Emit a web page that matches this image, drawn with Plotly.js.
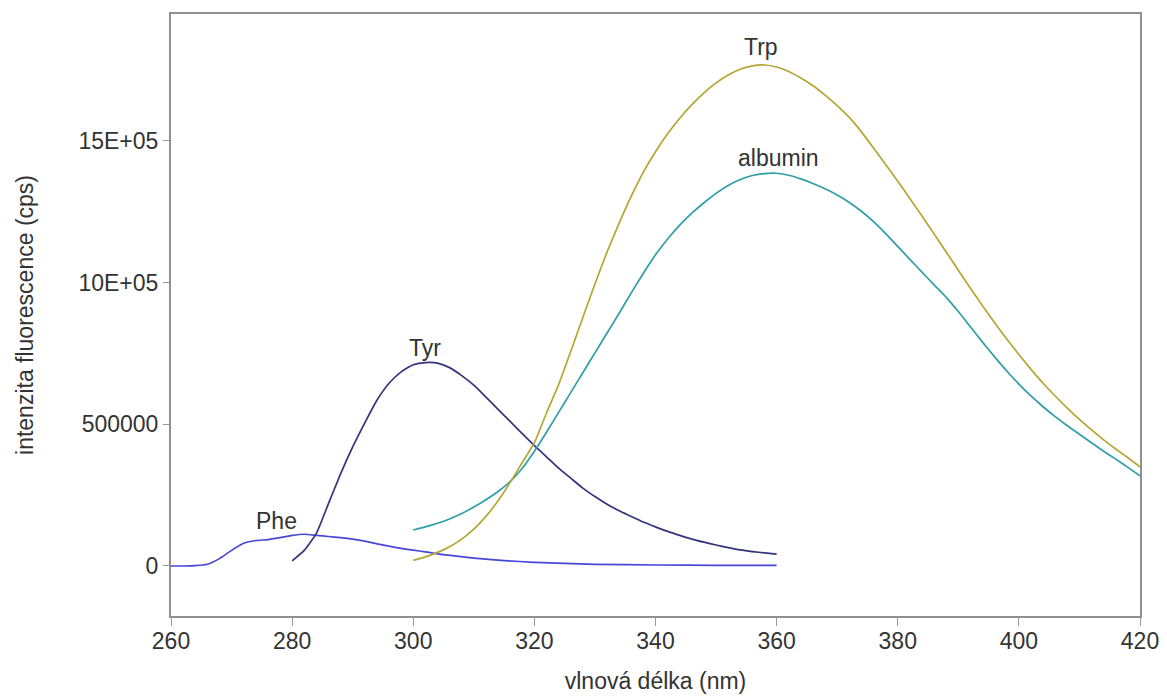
<!DOCTYPE html>
<html><head><meta charset="utf-8">
<script src="https://cdn.plot.ly/plotly-3.0.1.min.js"></script>
<style>html,body{margin:0;padding:0;background:#fff}#c{width:1167px;height:697px}</style>
</head><body><div id="c"></div>
<script>
const pheX = [260,262,264,266,268,270,272,274,276,278,280,282,284,286,288,290,292,294,296,298,300,302,305,310,315,320,325,330,340,350,360];
const pheY = [0,0,1000,6000,26000,55000,80000,90000,93000,100000,108000,112000,108000,104000,100000,95000,88000,78000,70000,62000,56000,50000,40000,28000,19000,13000,9000,6000,3500,2500,2000];

const tyrX = [280,282,284,286,288,290,292,294,296,298,300,302,304,306,308,310,312,314,316,318,320,322,324,326,328,330,332,334,336,338,340,342,344,346,348,350,352,354,356,358,360];
const tyrY = [18000,55000,115000,220000,325000,420000,505000,585000,645000,685000,710000,718000,716000,700000,672000,638000,596000,553000,510000,467000,425000,385000,345000,310000,275000,245000,218000,195000,175000,155000,138000,122000,108000,95000,84000,74000,65000,57000,51000,46000,42000];

const albX = [300,302,304,306,308,310,312,314,316,318,320,322,324,326,328,330,332,334,336,338,340,342,344,346,348,350,352,354,356,358,360,362,364,366,368,370,372,374,376,378,380,382,384,386,388,390,392,394,396,398,400,402,404,406,408,410,412,414,416,418,420];
const albY = [127000,138000,151000,166000,185000,208000,234000,263000,298000,345000,405000,472000,542000,612000,682000,752000,822000,892000,964000,1033000,1098000,1154000,1203000,1245000,1282000,1315000,1343000,1364000,1378000,1385000,1386000,1379000,1366000,1350000,1331000,1309000,1283000,1252000,1215000,1173000,1128000,1082000,1037000,992000,948000,898000,844000,790000,738000,688000,642000,600000,562000,527000,495000,465000,435000,405000,377000,348000,318000];

const trpX = albX;
const trpY = [20000,32000,48000,68000,95000,130000,175000,230000,295000,365000,435000,540000,640000,757000,877000,995000,1108000,1210000,1305000,1390000,1462000,1525000,1580000,1628000,1670000,1705000,1733000,1753000,1765000,1768000,1761000,1745000,1722000,1695000,1662000,1625000,1583000,1532000,1475000,1417000,1358000,1297000,1235000,1172000,1108000,1044000,980000,918000,858000,801000,746000,694000,645000,600000,557000,517000,480000,445000,413000,382000,350000];

const yTickVals = [0,500000,1000000,1500000];
const yTickText = ['0','500000','10E+05','15E+05'];
const xTickVals = [260,280,300,320,340,360,380,400,420];

const labels = [
  {text:'Trp', x:357.5, y:1830000},
  {text:'albumin', x:360.3, y:1440000},
  {text:'Tyr', x:302, y:770000},
  {text:'Phe', x:277.5, y:158000}
];

const line = (x,y,c,n) => ({x:x,y:y,type:'scatter',mode:'lines',name:n,line:{color:c,width:1.7,shape:'spline',smoothing:0.5},hoverinfo:'none'});
const data = [
  line(pheX,pheY,'#4848d6','Phe'),
  line(tyrX,tyrY,'#34347e','Tyr'),
  line(albX,albY,'#2f9eaa','albumin'),
  line(trpX,trpY,'#b4a632','Trp')
];

const font = {family:'Liberation Sans, Arial, sans-serif', size:23, color:'#333'};
const layout = {
  width:1167, height:697,
  margin:{l:171,r:27,t:14,b:81},
  paper_bgcolor:'#fff', plot_bgcolor:'#fff',
  showlegend:false,
  font:font,
  xaxis:{range:[260,420], tickvals:xTickVals, ticks:'outside', ticklen:8, tickcolor:'#999', tickwidth:1,
    ticklabelstandoff:-5,
    showline:true, linecolor:'#909090', linewidth:2, mirror:true, showgrid:false, zeroline:false,
    tickfont:font, title:{text:'vlnová délka (nm)', font:font, standoff:20}},
  yaxis:{range:[-176500,1948000], tickvals:yTickVals, ticktext:yTickText, ticks:'outside', ticklen:6, tickcolor:'#999', tickwidth:1,
    showline:true, linecolor:'#909090', linewidth:2, mirror:true, showgrid:false, zeroline:false,
    tickfont:font, title:{text:'intenzita fluorescence (cps)', font:font, standoff:38}},
  annotations: labels.map(l => ({x:l.x, y:l.y, xref:'x', yref:'y', text:l.text, showarrow:false, font:font}))
};
Plotly.newPlot('c', data, layout, {staticPlot:true});
</script></body></html>
